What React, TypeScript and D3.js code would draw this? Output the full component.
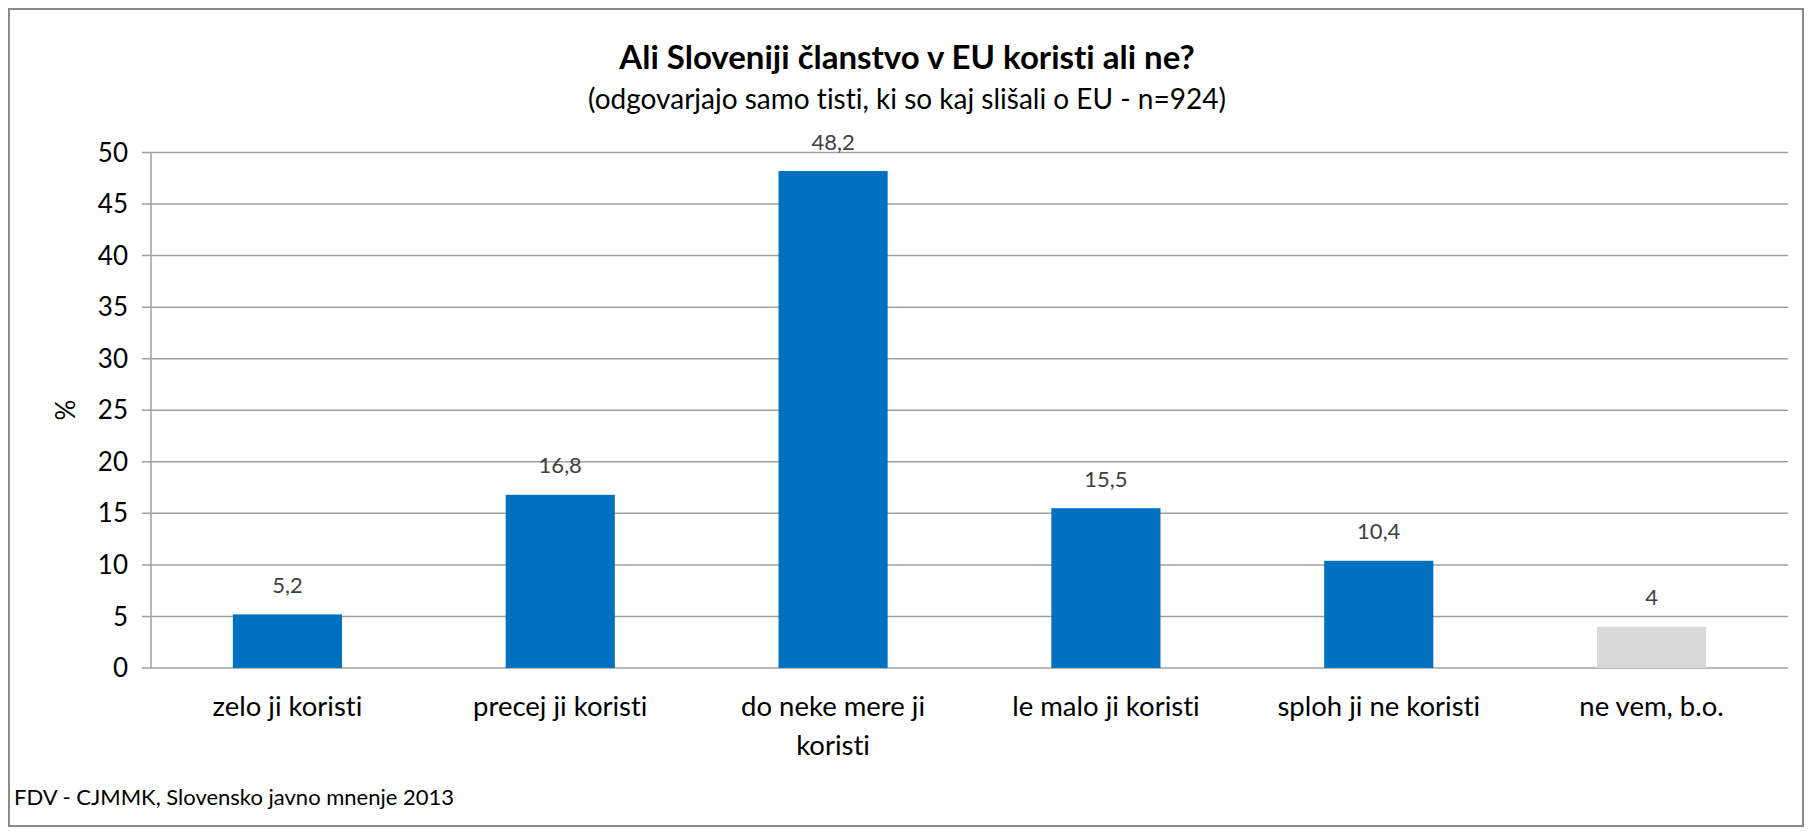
import React from "react";
import * as d3 from "d3";

const categories: string[][] = [
  ["zelo ji koristi"],
  ["precej ji koristi"],
  ["do neke mere ji", "koristi"],
  ["le malo ji koristi"],
  ["sploh ji ne koristi"],
  ["ne vem, b.o."],
];
const values: number[] = [5.2, 16.8, 48.2, 15.5, 10.4, 4];
const valueLabels: string[] = ["5,2", "16,8", "48,2", "15,5", "10,4", "4"];
const barColors: string[] = ["#0070C0", "#0070C0", "#0070C0", "#0070C0", "#0070C0", "#D9D9D9"];
const yTicks: number[] = [0, 5, 10, 15, 20, 25, 30, 35, 40, 45, 50];
const title = "Ali Sloveniji članstvo v EU koristi ali ne?";
const subtitle = "(odgovarjajo samo tisti, ki so kaj slišali o EU - n=924)";
const yAxisTitle = "%";
const footer = "FDV - CJMMK, Slovensko javno mnenje 2013";

const W = 1796;
const H = 819;
const OX = 8; // page offset
const FONT = "Lato, 'Open Sans', sans-serif";

export default function App() {
  const left = 151 - OX;
  const right = 1788 - OX;
  const top = 152.5 - OX;
  const bottom = 668 - OX;

  const x = d3
    .scaleBand<number>()
    .domain(categories.map((_, i) => i))
    .range([left, right])
    .paddingInner(0.6)
    .paddingOuter(0.3);
  const y = d3.scaleLinear().domain([0, 50]).range([bottom, top]);

  return (
    <svg
      width={W}
      height={H}
      style={{ display: "block", fontVariantLigatures: "none" }}
      fontFamily={FONT}
    >
      <rect x={0} y={0} width={W} height={H} fill="#fff" />
      <rect x={1} y={1} width={W - 2} height={H - 2} fill="none" stroke="#8a8a8a" strokeWidth={2} />
      <text x={907 - OX} y={69 - OX} textAnchor="middle" fontWeight="bold" fontSize={33} fill="#000">
        {title}
      </text>
      <text x={907 - OX} y={109 - OX} textAnchor="middle" fontSize={28} fill="#000">
        {subtitle}
      </text>
      {yTicks.map((t) => (
        <g key={t}>
          <line x1={left - 9} x2={right} y1={y(t)} y2={y(t)} stroke="#a0a0a0" strokeWidth={1.5} />
          <text x={left - 23} y={y(t)} dy="0.35em" textAnchor="end" fontSize={26} fill="#000">
            {t}
          </text>
        </g>
      ))}
      <line x1={left} x2={left} y1={top} y2={bottom} stroke="#a0a0a0" strokeWidth={1.5} />
      <text
        transform={`translate(${66 - OX},${410 - OX}) rotate(-90)`}
        textAnchor="middle"
        dy="0.35em"
        fontSize={26}
        fill="#000"
      >
        {yAxisTitle}
      </text>
      {values.map((v, i) => (
        <g key={i}>
          <rect x={x(i)!} y={y(v)} width={x.bandwidth()} height={bottom - y(v)} fill={barColors[i]} />
          <text
            x={x(i)! + x.bandwidth() / 2}
            y={y(v) - 29}
            dy="0.35em"
            textAnchor="middle"
            fontSize={22}
            fill="#404040"
          >
            {valueLabels[i]}
          </text>
          {categories[i].map((line, j) => (
            <text
              key={j}
              x={x(i)! + x.bandwidth() / 2}
              y={706 - OX + j * 39}
              dy="0.35em"
              textAnchor="middle"
              fontSize={27.5}
              fill="#000"
            >
              {line}
            </text>
          ))}
        </g>
      ))}
      <text x={14 - OX} y={797 - OX} dy="0.35em" fontSize={22} fill="#000">
        {footer}
      </text>
    </svg>
  );
}
